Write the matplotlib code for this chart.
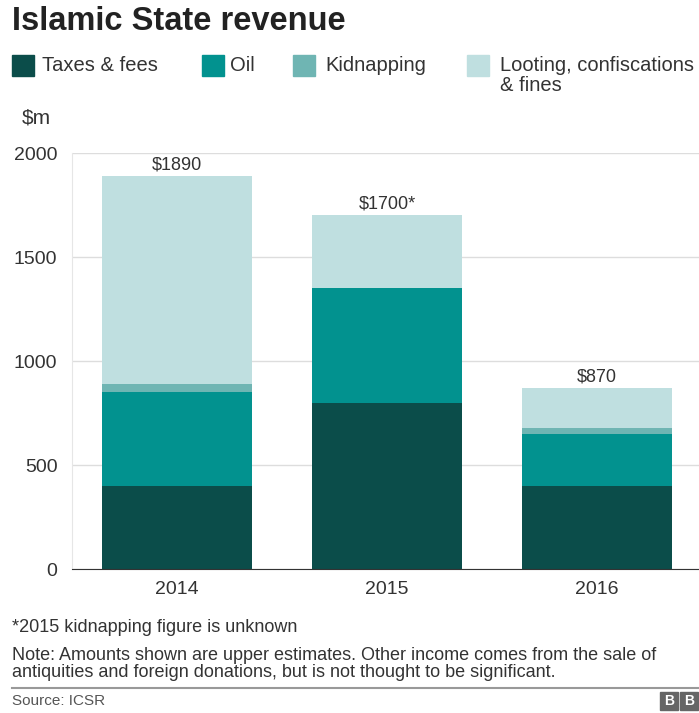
import matplotlib.pyplot as plt
from matplotlib.patches import Rectangle

plt.rcParams["font.family"] = ["Liberation Sans", "DejaVu Sans"]

years = ["2014", "2015", "2016"]
taxes = [400, 800, 400]
oil = [450, 550, 250]
kidnapping = [40, 0, 30]
looting = [1000, 350, 190]
totals = ["$1890", "$1700*", "$870"]

series = [taxes, oil, kidnapping, looting]
names = ["Taxes & fees", "Oil", "Kidnapping", "Looting, confiscations\n& fines"]
colors = ["#0b4d4a", "#02928f", "#6fb5b3", "#bfdfe0"]

W, H = 699, 713
fig = plt.figure(figsize=(W / 100, H / 100), dpi=100)


def fx(px):
    return px / W


def fy(py):
    return 1 - py / H


ax = fig.add_axes([fx(72), fy(569), 1 - fx(72), fy(153) - fy(569)])

x = list(range(len(years)))
bottom = [0] * len(years)
for vals, c in zip(series, colors):
    ax.bar(x, vals, width=0.714, bottom=bottom, color=c, zorder=2)
    bottom = [b + v for b, v in zip(bottom, vals)]

for xi, tot, lab in zip(x, bottom, totals):
    ax.text(xi, tot + 12, lab, ha="center", va="bottom", fontsize=13, color="#333333")

ax.set_xlim(-0.50, 2.486)
ax.set_ylim(0, 2000)
ax.set_yticks([0, 500, 1000, 1500, 2000])
ax.set_xticks(x)
ax.set_xticklabels(years)
ax.grid(axis="y", color="#dddddd", linewidth=1, zorder=0)
for s in ["top", "right"]:
    ax.spines[s].set_visible(False)
ax.spines["left"].set_color("#e6e6e6")
ax.spines["bottom"].set_color("#333333")
ax.tick_params(axis="both", length=0, labelsize=14, colors="#333333")
ax.tick_params(axis="x", pad=9)
ax.tick_params(axis="y", pad=10.5)

fig.text(fx(12), fy(21), "Islamic State revenue", fontsize=23.5, fontweight="bold",
         color="#222222", va="center")

# legend drawn by hand so the two-line label hangs from its first line
leg = [(12, 42), (202, 230), (293, 325), (467, 500)]
for (sx, tx), name, c in zip(leg, names, colors):
    fig.add_artist(Rectangle((fx(sx), fy(76)), fx(22), fy(55) - fy(76), color=c))
    fig.text(fx(tx), fy(56), name, fontsize=14.5, color="#333333", va="top",
             linespacing=1.05)

fig.text(fx(22), fy(118), "$m", fontsize=15, color="#333333", va="center")

fig.text(fx(12), fy(628), "*2015 kidnapping figure is unknown", fontsize=13,
         color="#333333", va="center")
fig.text(fx(12), fy(664), "Note: Amounts shown are upper estimates. Other income comes from the sale of\n"
         "antiquities and foreign donations, but is not thought to be significant.",
         fontsize=13, color="#333333", va="center", linespacing=1.0)
fig.add_artist(plt.Line2D([fx(12), 1.0], [fy(688), fy(688)], color="#999999", linewidth=1.5))
fig.text(fx(12), fy(701), "Source: ICSR", fontsize=11, color="#555555", va="center")
for bx in [660, 680]:
    fig.add_artist(Rectangle((fx(bx), fy(710)), fx(18), fy(692) - fy(710), color="#666666"))
    fig.text(fx(bx + 9), fy(701), "B", color="white", fontsize=10, fontweight="bold",
             ha="center", va="center")

fig.savefig("out.png", dpi=100)
